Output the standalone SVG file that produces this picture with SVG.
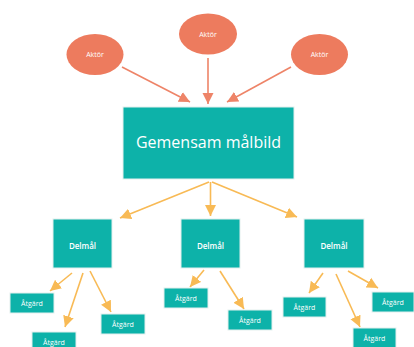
<svg xmlns="http://www.w3.org/2000/svg" width="414" height="347" viewBox="0 0 414 347">
<style>
.act{fill:#ED7B5E}
.box{fill:#0DB2A9;stroke:#E3EFEE;stroke-width:1}
.t{font-family:"Open Sans","Liberation Sans",sans-serif;fill:#FFFFFF;text-anchor:middle;dominant-baseline:central}
.c1{stroke:#EE8468;stroke-width:1.6;fill:none}
.c2{stroke:#F8BA55;stroke-width:1.6;fill:none}
</style>
<defs>
<marker id="ah1" markerUnits="userSpaceOnUse" markerWidth="12" markerHeight="12" viewBox="0 0 12 12" refX="11" refY="6" orient="auto">
<path d="M0,0.5 L11,6 L0,11.5 Z" fill="#EE8468"/>
</marker>
<marker id="ah2" markerUnits="userSpaceOnUse" markerWidth="12" markerHeight="12" viewBox="0 0 12 12" refX="11" refY="6" orient="auto">
<path d="M0,0.5 L11,6 L0,11.5 Z" fill="#F8BA55"/>
</marker>
</defs>
<rect width="414" height="347" fill="#FFFFFF"/>
<g id="connectors">
<line class="c1" x1="122" y1="67" x2="190" y2="102" marker-end="url(#ah1)"/>
<line class="c1" x1="208" y1="58" x2="208" y2="104" marker-end="url(#ah1)"/>
<line class="c1" x1="291" y1="67" x2="227" y2="102" marker-end="url(#ah1)"/>
<line class="c2" x1="209" y1="182" x2="120" y2="218" marker-end="url(#ah2)"/>
<line class="c2" x1="210.5" y1="182" x2="210.5" y2="216" marker-end="url(#ah2)"/>
<line class="c2" x1="212" y1="182" x2="297" y2="217" marker-end="url(#ah2)"/>
<line class="c2" x1="72" y1="273" x2="50" y2="291" marker-end="url(#ah2)"/>
<line class="c2" x1="83" y1="273" x2="65" y2="327" marker-end="url(#ah2)"/>
<line class="c2" x1="90" y1="271" x2="111" y2="312" marker-end="url(#ah2)"/>
<line class="c2" x1="204" y1="270" x2="190" y2="287" marker-end="url(#ah2)"/>
<line class="c2" x1="220" y1="271" x2="244" y2="309" marker-end="url(#ah2)"/>
<line class="c2" x1="323" y1="273" x2="309" y2="293" marker-end="url(#ah2)"/>
<line class="c2" x1="336" y1="274" x2="360" y2="327" marker-end="url(#ah2)"/>
<line class="c2" x1="348" y1="271" x2="378" y2="288" marker-end="url(#ah2)"/>
</g>
<g id="aktor1"><ellipse class="act" cx="95" cy="54.5" rx="28.5" ry="20.5"/><text class="t" x="95" y="54.5" font-size="7">Aktör</text></g>
<g id="aktor2"><ellipse class="act" cx="208" cy="34" rx="29" ry="20.5"/><text class="t" x="208" y="34" font-size="7">Aktör</text></g>
<g id="aktor3"><ellipse class="act" cx="319.5" cy="54.5" rx="28.5" ry="20.5"/><text class="t" x="319.5" y="54.5" font-size="7">Aktör</text></g>
<g id="main"><rect class="box" x="123" y="107" width="171" height="72"/><text class="t" x="208.5" y="142" font-size="16">Gemensam målbild</text></g>
<g id="delmal1"><rect class="box" x="53" y="219" width="59" height="49"/><text class="t" x="82.5" y="245" font-size="8" font-weight="600">Delmål</text></g>
<g id="delmal2"><rect class="box" x="181" y="219" width="59" height="49"/><text class="t" x="210.5" y="245" font-size="8" font-weight="600">Delmål</text></g>
<g id="delmal3"><rect class="box" x="304" y="219" width="60" height="49"/><text class="t" x="334" y="245" font-size="8" font-weight="600">Delmål</text></g>
<g id="atgard1"><rect class="box" x="10" y="293" width="44" height="20"/><text class="t" x="32" y="303" font-size="7">Åtgärd</text></g>
<g id="atgard2"><rect class="box" x="32" y="332" width="44" height="20"/><text class="t" x="54" y="342" font-size="7">Åtgärd</text></g>
<g id="atgard3"><rect class="box" x="101" y="314" width="44" height="20"/><text class="t" x="123" y="324" font-size="7">Åtgärd</text></g>
<g id="atgard4"><rect class="box" x="164" y="288" width="44" height="20"/><text class="t" x="186" y="298" font-size="7">Åtgärd</text></g>
<g id="atgard5"><rect class="box" x="228" y="310" width="44" height="20"/><text class="t" x="250" y="320" font-size="7">Åtgärd</text></g>
<g id="atgard6"><rect class="box" x="283" y="297" width="43" height="20"/><text class="t" x="304.5" y="307" font-size="7">Åtgärd</text></g>
<g id="atgard7"><rect class="box" x="353" y="328" width="43" height="20"/><text class="t" x="374.5" y="338" font-size="7">Åtgärd</text></g>
<g id="atgard8"><rect class="box" x="372" y="292" width="42" height="20"/><text class="t" x="393" y="302" font-size="7">Åtgärd</text></g>
</svg>
